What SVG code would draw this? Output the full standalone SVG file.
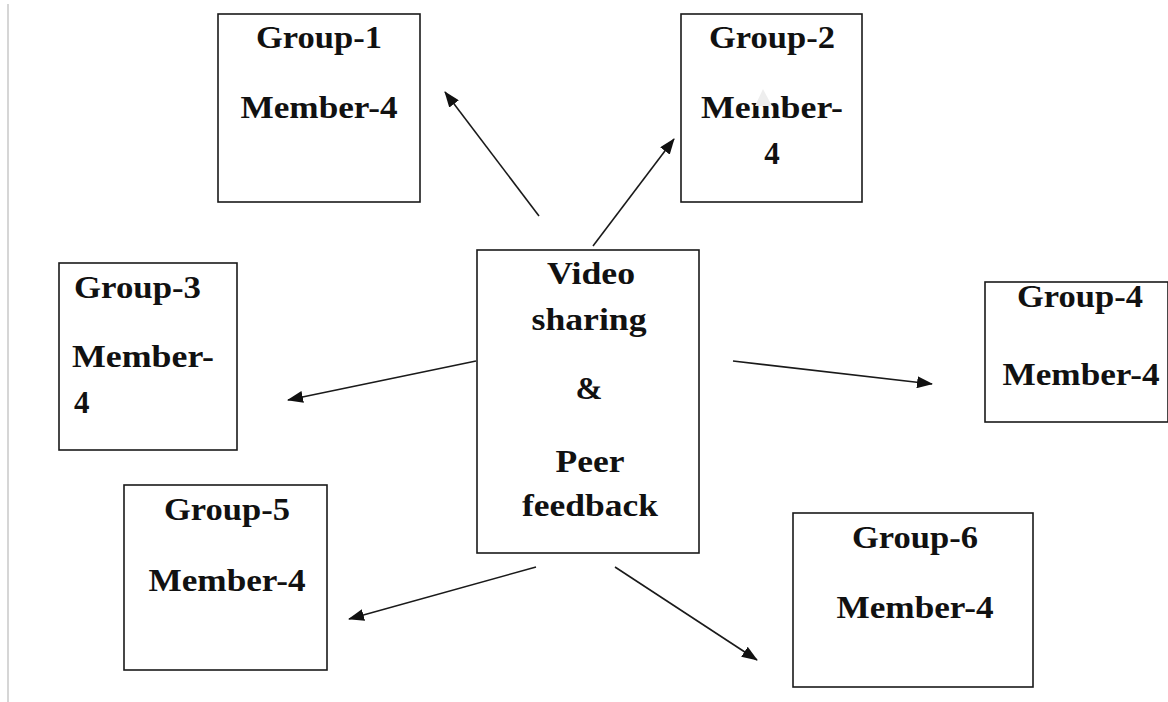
<svg xmlns="http://www.w3.org/2000/svg" width="1168" height="702" viewBox="0 0 1168 702">
<style>
.box{fill:#fff;stroke:#1a1a1a;stroke-width:1.6}
.t{font-family:"Liberation Serif","Times New Roman",serif;font-weight:bold;font-size:31px;fill:#111}
.c{text-anchor:middle}
.con{stroke:#1a1a1a;stroke-width:1.6;fill:none;marker-end:url(#ah)}
</style>
<defs>
<marker id="ah" viewBox="0 0 16 12" refX="15" refY="6" markerWidth="16" markerHeight="12" markerUnits="userSpaceOnUse" orient="auto">
<path d="M0,0 L16,6 L0,12 z" fill="#111"/>
</marker>
</defs>
<rect width="1168" height="702" fill="#fff"/>
<line x1="8" y1="4" x2="8" y2="702" stroke="#c8c8c8" stroke-width="1.5"/>
<g id="connectors">
<line class="con" x1="539" y1="216" x2="445" y2="92"/>
<line class="con" x1="593" y1="246" x2="674" y2="139"/>
<line class="con" x1="476" y1="361" x2="288" y2="400"/>
<line class="con" x1="733" y1="361" x2="932" y2="384"/>
<line class="con" x1="536" y1="567" x2="349" y2="619"/>
<line class="con" x1="615" y1="567" x2="757" y2="660"/>
</g>
<g id="group1">
<rect class="box" x="218" y="14" width="202" height="188"/>
<text class="t c" x="319" y="48" textLength="126" lengthAdjust="spacingAndGlyphs">Group-1</text>
<text class="t c" x="319" y="118" textLength="157" lengthAdjust="spacingAndGlyphs">Member-4</text>
</g>
<g id="group2">
<rect class="box" x="681" y="14" width="181" height="188"/>
<text class="t c" x="772" y="48" textLength="126" lengthAdjust="spacingAndGlyphs">Group-2</text>
<text class="t c" x="772" y="118" textLength="142" lengthAdjust="spacingAndGlyphs">Member-</text>
<text class="t c" x="772" y="164">4</text>
<polygon points="763,89 755,106 772,106" fill="#eeeeee"/>
</g>
<g id="center">
<rect class="box" x="477" y="250" width="222" height="303"/>
<text class="t c" x="591" y="284" textLength="88" lengthAdjust="spacingAndGlyphs">Video</text>
<text class="t c" x="589" y="330" textLength="115" lengthAdjust="spacingAndGlyphs">sharing</text>
<text class="t c" x="589" y="399" textLength="27" lengthAdjust="spacingAndGlyphs">&amp;</text>
<text class="t c" x="590" y="472" textLength="69" lengthAdjust="spacingAndGlyphs">Peer</text>
<text class="t c" x="590" y="516" textLength="136" lengthAdjust="spacingAndGlyphs">feedback</text>
</g>
<g id="group3">
<rect class="box" x="59" y="263" width="178" height="187"/>
<text class="t" x="74" y="298" textLength="127" lengthAdjust="spacingAndGlyphs">Group-3</text>
<text class="t" x="72" y="367" textLength="142" lengthAdjust="spacingAndGlyphs">Member-</text>
<text class="t" x="74" y="413">4</text>
</g>
<g id="group4">
<rect class="box" x="985" y="282" width="183" height="140"/>
<text class="t c" x="1080" y="307" textLength="126" lengthAdjust="spacingAndGlyphs">Group-4</text>
<text class="t c" x="1081" y="385" textLength="157" lengthAdjust="spacingAndGlyphs">Member-4</text>
</g>
<g id="group5">
<rect class="box" x="124" y="485" width="203" height="185"/>
<text class="t c" x="227" y="520" textLength="126" lengthAdjust="spacingAndGlyphs">Group-5</text>
<text class="t c" x="227" y="591" textLength="157" lengthAdjust="spacingAndGlyphs">Member-4</text>
</g>
<g id="group6">
<rect class="box" x="793" y="513" width="240" height="174"/>
<text class="t c" x="915" y="548" textLength="126" lengthAdjust="spacingAndGlyphs">Group-6</text>
<text class="t c" x="915" y="618" textLength="157" lengthAdjust="spacingAndGlyphs">Member-4</text>
</g>
</svg>
